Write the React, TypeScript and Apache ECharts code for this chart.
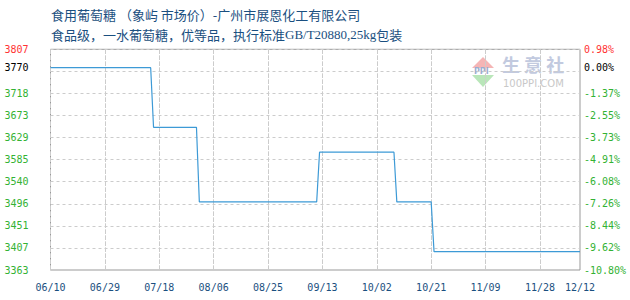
import React, { useEffect, useRef } from "react";
import * as echarts from "echarts";

// Price history (step changes), yuan/ton
const changeDates = [
  "06/10", "07/15", "07/16", "07/31", "08/01", "09/11",
  "09/12", "10/08", "10/09", "10/21", "10/22", "12/12",
];
const changePrices = [
  3770, 3770, 3650, 3650, 3500, 3500,
  3600, 3600, 3500, 3500, 3400, 3400,
];

// Reference (base) price for the percentage axis
const basePrice = 3770;

// Y axis range and step
const yMin = 3363;
const yMax = 3807;
const yStep = 44.4;

// Day span of the x axis
const startDate = "2024-06-10";
const endDate = "2024-12-12";
const labelEvery = 19;

const titleLine1 = "食用葡萄糖 （象屿 市场价）-广州市展恩化工有限公司";
const titleLine2a = "食品级，一水葡萄糖，优等品，执行标准";
const titleLine2b = "GB/T20880,25kg";
const titleLine2c = "包装";

function buildDays(): string[] {
  const out: string[] = [];
  const d = new Date(startDate + "T00:00:00Z");
  const end = new Date(endDate + "T00:00:00Z");
  while (d <= end) {
    const mm = String(d.getUTCMonth() + 1).padStart(2, "0");
    const dd = String(d.getUTCDate()).padStart(2, "0");
    out.push(`${mm}/${dd}`);
    d.setUTCDate(d.getUTCDate() + 1);
  }
  return out;
}

const GREEN = "#33b233";
const RED = "#ff3333";
const NAVY = "#1a4f80";
const MONO = "'DejaVu Sans Mono', 'Liberation Mono', monospace";

const PLOT = { left: 50.5, right: 50, top: 49.3, bottom: 30 };
const PLOT_HEIGHT = 300 - PLOT.top - PLOT.bottom;

export default function App() {
  const ref = useRef<HTMLDivElement>(null);

  useEffect(() => {
    document.body.style.margin = "0";
    if (!ref.current) return;
    const chart = echarts.init(ref.current, undefined, { renderer: "svg" });
    const days = buildDays();
    const lastIdx = days.length - 1;

    const isTop = (v: number) => Math.abs(v - yMax) < 0.01;
    const hidden = (i: number) => i === 9; // tick just under the base price

    chart.setOption({
      animation: false,
      title: [
        {
          text: titleLine1,
          left: 46,
          top: 3,
          textStyle: {
            color: NAVY,
            fontSize: 13,
            fontWeight: "normal",
            fontFamily: "'Noto Sans CJK SC', sans-serif",
          },
        },
        {
          text: `{a|${titleLine2a}}{b|${titleLine2b}}{a|${titleLine2c}}`,
          left: 46,
          top: 23,
          textStyle: {
            fontWeight: "normal",
            rich: {
              a: {
                color: NAVY,
                fontSize: 13,
                fontWeight: "normal",
                fontFamily: "'Noto Sans CJK SC', sans-serif",
              },
              b: {
                color: NAVY,
                fontSize: 13,
                fontWeight: "normal",
                fontFamily: "'Liberation Serif', serif",
              },
            },
          },
        },
      ],
      grid: {
        ...PLOT,
        show: true,
        borderColor: "#999999",
        borderWidth: 1,
        backgroundColor: "transparent",
      },
      graphic: [
        // 生意社 watermark
        {
          type: "group",
          left: 472,
          top: 55,
          children: [
            {
              type: "polygon",
              shape: { points: [[11, 0], [22, 11], [0, 11]] },
              style: { fill: "#f5b5b5" },
            },
            {
              type: "polygon",
              shape: { points: [[0, 18], [22, 18], [11, 30]] },
              style: { fill: "#b9e6b9" },
            },
            {
              type: "text",
              x: 2,
              y: 10,
              style: {
                text: "PPI",
                fill: "#9aaed0",
                font: "bold 8px 'DejaVu Sans', sans-serif",
              },
            },
            {
              type: "text",
              x: 30,
              y: -2,
              style: {
                text: "生 意 社",
                fill: "#c2cadf",
                font: "bold 18px 'Noto Sans CJK SC', sans-serif",
              },
            },
            {
              type: "text",
              x: 31,
              y: 21,
              style: {
                text: "100PPI.COM",
                fill: "#c8c8c8",
                font: "10px 'DejaVu Sans', sans-serif",
              },
            },
          ],
        },
      ],
      xAxis: {
        type: "category",
        data: days,
        boundaryGap: false,
        axisLine: { show: false },
        // inward ticks spanning the plot serve as the vertical dashed guides
        axisTick: {
          show: true,
          inside: true,
          interval: labelEvery - 1,
          length: PLOT_HEIGHT,
          lineStyle: { color: "#cccccc", type: [3, 3], width: 1 },
        },
        axisLabel: {
          interval: (i: number) => i % labelEvery === 0 || i === lastIdx,
          color: NAVY,
          fontFamily: MONO,
          fontSize: 10,
          margin: 12,
        },
        splitLine: {
          show: true,
          interval: labelEvery - 1,
          lineStyle: { color: "#cccccc", type: [3, 3], width: 1 },
        },
      },
      yAxis: [
        {
          type: "value",
          min: yMin,
          max: yMax,
          interval: yStep,
          axisLine: { show: false },
          axisTick: { show: false },
          axisLabel: {
            margin: 22,
            fontFamily: MONO,
            fontSize: 10,
            color: (v: number) => (isTop(Number(v)) ? RED : GREEN),
            formatter: (v: number, i: number) =>
              hidden(i) ? "" : String(Math.floor(v + 1e-6)),
          },
          splitLine: {
            show: true,
            lineStyle: { color: "#cccccc", type: [3, 3], width: 1 },
          },
        },
        {
          type: "value",
          position: "right",
          min: yMin,
          max: yMax,
          interval: yStep,
          axisLine: { show: false },
          axisTick: { show: false },
          splitLine: { show: false },
          axisLabel: {
            margin: 4,
            fontFamily: MONO,
            fontSize: 10,
            color: (v: number) => (isTop(Number(v)) ? RED : GREEN),
            formatter: (v: number, i: number) =>
              hidden(i)
                ? ""
                : (((v - basePrice) / basePrice) * 100).toFixed(2) + "%",
          },
        },
      ],
      series: [
        {
          type: "line",
          yAxisIndex: 0,
          data: changeDates.map((d, i) => [d, changePrices[i]]),
          symbol: "none",
          lineStyle: { color: "#3d9ad6", width: 1.2 },
          markLine: {
            silent: true,
            symbol: ["none", "none"],
            lineStyle: { color: "rgba(0,0,0,0)", width: 1 },
            data: [
              {
                yAxis: basePrice,
                label: {
                  show: true,
                  position: "start",
                  distance: 22,
                  formatter: String(basePrice),
                  color: "#000000",
                  fontFamily: MONO,
                  fontSize: 10,
                },
              },
              {
                yAxis: basePrice,
                label: {
                  show: true,
                  position: "end",
                  distance: 4,
                  formatter: "0.00%",
                  color: "#000000",
                  fontFamily: MONO,
                  fontSize: 10,
                },
              },
            ],
          },
        },
      ],
    });

    return () => chart.dispose();
  }, []);

  return <div ref={ref} style={{ width: 630, height: 300 }} />;
}
